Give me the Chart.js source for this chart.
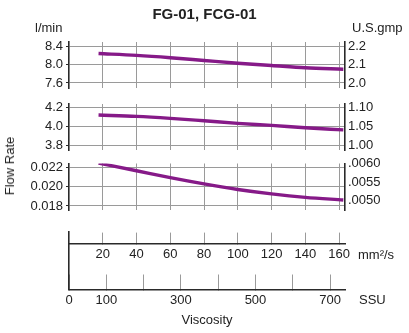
<!DOCTYPE html>
<html>
<head>
<meta charset="utf-8">
<script src="https://cdn.jsdelivr.net/npm/chart.js@4.4.1/dist/chart.umd.min.js"></script>
<style>
    html, body { margin: 0; padding: 0; background: #fff; }
    #wrap { position: relative; width: 409px; height: 333px; overflow: hidden; font-family: "Liberation Sans", Arial, sans-serif; color: #222; }
    #wrap canvas { position: absolute; left: 0; top: 0; }
    .lbl { position: absolute; font-size: 13px; line-height: 16px; white-space: nowrap; }
</style>
</head>
<body>
<div id="wrap">
    <canvas id="panelTop" width="409" height="333"></canvas>
    <canvas id="panelMid" width="409" height="333"></canvas>
    <canvas id="panelLow" width="409" height="333"></canvas>
    <canvas id="viscAxes" width="409" height="333"></canvas>
    <div class="lbl" style="left:0;width:409px;top:5px;text-align:center;font-weight:bold;font-size:15px;line-height:18px;">FG-01, FCG-01</div>
    <div class="lbl" style="left:35px;top:20px;">l/min</div>
    <div class="lbl" style="left:352px;top:20px;">U.S.gmp</div>
    <div class="lbl" style="left:10px;top:166px;transform:translate(-50%,-50%) rotate(-90deg);">Flow Rate</div>
    <div class="lbl" style="left:358px;top:247px;">mm²/s</div>
    <div class="lbl" style="left:359px;top:292px;">SSU</div>
</div>
<script>
/* global Chart, document */
// viscosity (mm2/s) where the curves were read
const VISC_MM2S = [17.5, 40, 60, 80, 100, 120, 140, 162.5];

// flow rate, l/min, one curve per panel
const FLOW_TOP = [8.24, 8.20, 8.15, 8.09, 8.03, 7.98, 7.93, 7.90];
const FLOW_MID = [4.118, 4.104, 4.083, 4.057, 4.030, 4.008, 3.983, 3.960];
const FLOW_LOW = [0.02245, 0.02166, 0.02095, 0.02030, 0.01972, 0.01926, 0.01890, 0.01863];

// tick values / labels
const MM2S_TICKS = [20, 40, 60, 80, 100, 120, 140, 160];
const MM2S_LABELS = ["20", "40", "60", "80", "100", "120", "140", "160"];
const SSU_TICKS = [0, 100, 200, 300, 400, 500, 600, 700];
const SSU_LABELS = ["0", "100", "", "300", "", "500", "", "700"];

const TOP_L_TICKS = [7.6, 8.0, 8.4];
const TOP_L_LABELS = ["7.6", "8.0", "8.4"];
const TOP_R_TICKS = [2.0, 2.1, 2.2];
const TOP_R_LABELS = ["2.0", "2.1", "2.2"];

const MID_L_TICKS = [3.8, 4.0, 4.2];
const MID_L_LABELS = ["3.8", "4.0", "4.2"];
const MID_R_TICKS = [1.00, 1.05, 1.10];
const MID_R_LABELS = ["1.00", "1.05", "1.10"];

const LOW_L_TICKS = [0.018, 0.020, 0.022];
const LOW_L_LABELS = ["0.018", "0.020", "0.022"];
const LOW_R_TICKS = [0.0050, 0.0055, 0.0060];
const LOW_R_LABELS = [".0050", ".0055", ".0060"];

const LINE_COLOR = "#861a88";
const AXIS_COLOR = "#2a2a2a";
const GRID_COLOR = "#9a9a9a";

Chart.defaults.font.family = "\"Liberation Sans\", Arial, sans-serif";
Chart.defaults.font.size = 13;
Chart.defaults.color = "#222";

function setTicks(values) {
    return function (scale) {
        scale.ticks = values.map(v => ({ value: v }));
    };
}

function drawPanel(id, values, left, right, box) {
    const ctx = document.getElementById(id).getContext("2d");
    return new Chart(ctx, {
        type: "line",
        data: {
            datasets: [{
                data: VISC_MM2S.map((x, i) => ({ x: x, y: values[i] })),
                borderColor: LINE_COLOR,
                borderWidth: 3.4,
                pointRadius: 0,
                cubicInterpolationMode: "monotone",
                yAxisID: "y"
            }]
        },
        options: {
            responsive: false,
            animation: false,
            devicePixelRatio: 1,
            layout: { padding: { top: box.top, bottom: 333 - box.bottom, left: 0, right: 0 } },
            plugins: { legend: { display: false }, tooltip: { enabled: false } },
            scales: {
                x: {
                    type: "linear",
                    min: 0,
                    max: 163.5,
                    afterBuildTicks: setTicks(MM2S_TICKS),
                    afterFit: s => { s.height = 0; },
                    ticks: { display: false },
                    grid: { color: GRID_COLOR, lineWidth: 1, drawTicks: false },
                    border: { display: false }
                },
                y: {
                    position: "left",
                    min: box.lMin,
                    max: box.lMax,
                    afterBuildTicks: setTicks(left.ticks),
                    afterFit: s => { s.width = 69; },
                    ticks: { padding: 3, callback: (v, i) => left.labels[i] },
                    grid: { color: GRID_COLOR, lineWidth: 1, tickColor: AXIS_COLOR, tickLength: 3 },
                    border: { display: true, color: AXIS_COLOR, width: 1.6 }
                },
                y2: {
                    position: "right",
                    min: box.rMin,
                    max: box.rMax,
                    afterBuildTicks: setTicks(right.ticks),
                    afterFit: s => { s.width = 64; },
                    ticks: { padding: 3, callback: (v, i) => right.labels[i] },
                    grid: { drawOnChartArea: false, drawTicks: false },
                    border: { display: true, color: AXIS_COLOR, width: 1.6 }
                }
            }
        }
    });
}

drawPanel("panelTop", FLOW_TOP,
    { ticks: TOP_L_TICKS, labels: TOP_L_LABELS },
    { ticks: TOP_R_TICKS, labels: TOP_R_LABELS },
    { top: 42, bottom: 88, lMin: 7.491, lMax: 8.491, rMin: 1.9728, rMax: 2.2228 });

drawPanel("panelMid", FLOW_MID,
    { ticks: MID_L_TICKS, labels: MID_L_LABELS },
    { ticks: MID_R_TICKS, labels: MID_R_LABELS },
    { top: 104, bottom: 150, lMin: 3.747, lMax: 4.235, rMin: 0.98675, rMax: 1.10875 });

drawPanel("panelLow", FLOW_LOW,
    { ticks: LOW_L_TICKS, labels: LOW_L_LABELS },
    { ticks: LOW_R_TICKS, labels: LOW_R_LABELS },
    { top: 163.5, bottom: 210, lMin: 0.017584, lMax: 0.022416, rMin: 0.0047513, rMax: 0.0060053 });

// the two viscosity scales underneath
function drawViscosityAxes() {
    const ctx = document.getElementById("viscAxes").getContext("2d");
    return new Chart(ctx, {
        type: "line",
        data: { datasets: [] },
        options: {
            responsive: false,
            animation: false,
            devicePixelRatio: 1,
            layout: { padding: { top: 232, right: 64, bottom: 1.2, left: 0 } },
            plugins: { legend: { display: false }, tooltip: { enabled: false } },
            scales: {
                y: {
                    display: true,
                    position: "left",
                    min: 0,
                    max: 1,
                    afterFit: s => { s.width = 69; },
                    ticks: { display: false },
                    grid: { drawOnChartArea: false, drawTicks: false },
                    border: { display: true, color: AXIS_COLOR, width: 1.6 }
                },
                mm: {
                    type: "linear",
                    axis: "x",
                    display: true,
                    position: { y: 0.79 },
                    min: 0,
                    max: 163.5,
                    afterBuildTicks: setTicks(MM2S_TICKS),
                    ticks: { padding: 15, autoSkip: false, maxRotation: 0, callback: (v, i) => MM2S_LABELS[i] },
                    grid: { drawOnChartArea: false, color: GRID_COLOR, tickLength: -12 },
                    border: { display: true, color: AXIS_COLOR, width: 1.6 }
                },
                ssu: {
                    type: "linear",
                    axis: "x",
                    display: true,
                    position: "bottom",
                    min: 0,
                    max: 740,
                    afterBuildTicks: setTicks(SSU_TICKS),
                    afterFit: s => { s.height = 42.3; },
                    ticks: { padding: 18.4, autoSkip: false, maxRotation: 0, callback: (v, i) => SSU_LABELS[i] },
                    grid: { drawOnChartArea: false, color: GRID_COLOR, tickLength: -15 },
                    border: { display: true, color: AXIS_COLOR, width: 1.6 },
                    title: { display: true, text: "Viscosity", font: { size: 13 }, padding: { top: 0, bottom: 4 } }
                }
            }
        }
    });
}

drawViscosityAxes();
</script>
</body>
</html>
